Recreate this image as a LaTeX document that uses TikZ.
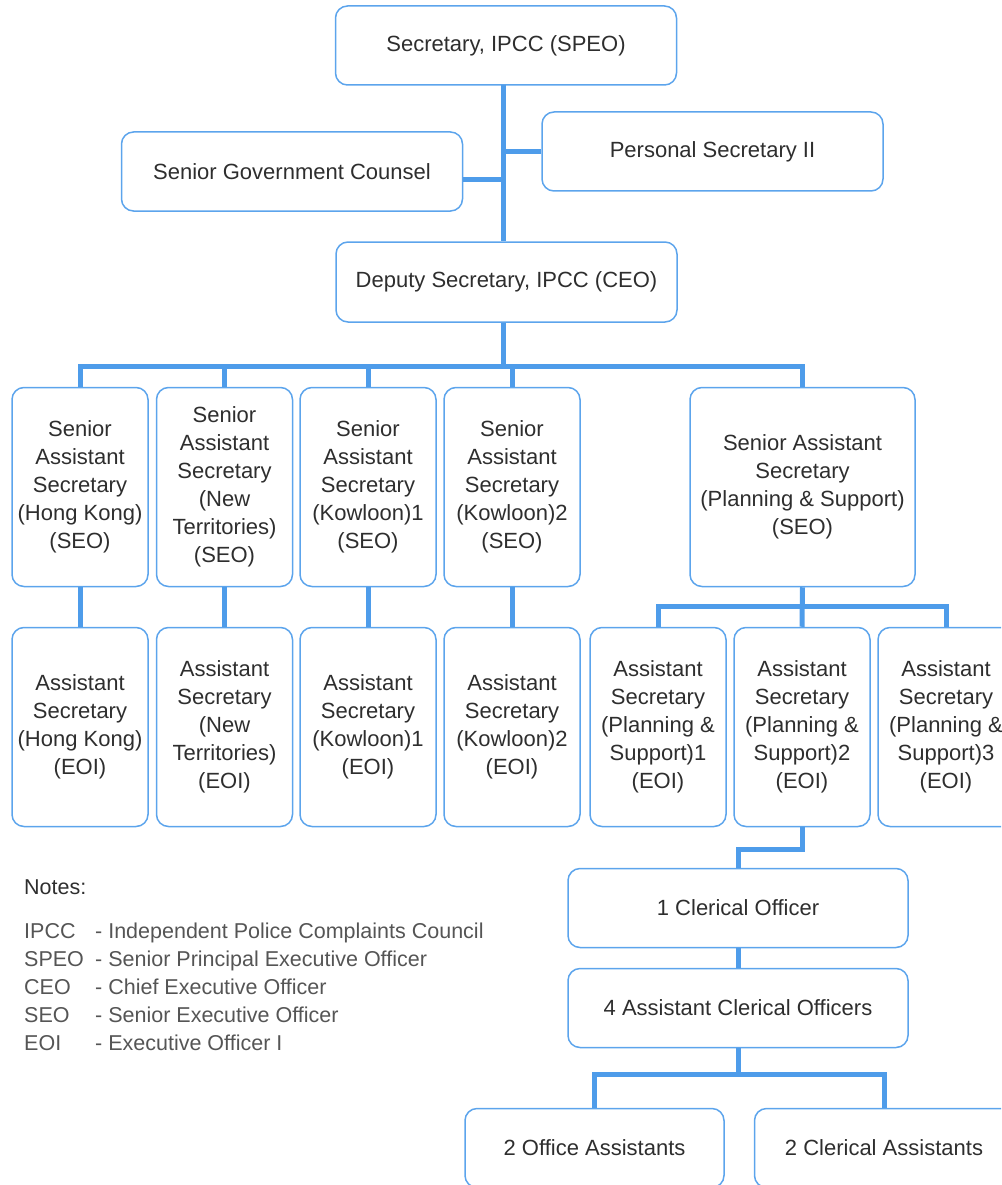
\documentclass[tikz,border=0pt]{standalone}
\usepackage{fontspec}
\setmainfont{Liberation Sans}
\definecolor{boxblue}{HTML}{5CA4EC}
\definecolor{linkblue}{HTML}{4E9CEA}
\definecolor{inkgrey}{HTML}{2E2E2E}
\definecolor{notegrey}{HTML}{555555}

\begin{document}
\begin{tikzpicture}[x=1pt, y=-1pt,
    post/.style={draw=boxblue, line width=1.5pt, rounded corners=12pt, text=inkgrey,
      align=center, font=\fontsize{22}{28}\selectfont, inner sep=0pt},
    wide/.style={post, minimum width=341pt, minimum height=79pt},
    tall/.style={post, minimum width=136pt, minimum height=199pt},
    link/.style={linkblue, line width=5pt},
    note/.style={anchor=base west, text=notegrey, font=\fontsize{21.5}{28}\selectfont, inner sep=0pt}]
    \clip (0,0) rectangle (1001,1185);

    % top of the office
    \node[wide] (sec) at (506,45.5) {Secretary, IPCC (SPEO)};
    \node[wide] (sgc) at (292,171.5) {Senior Government Counsel};
    \node[wide] (ps) at (712.5,151.5) {Personal Secretary II};
    \node[wide, minimum height=80pt] (dep) at (506.5,282) {Deputy Secretary, IPCC (CEO)};

    \coordinate (spine) at (503,85);
    \draw[link] (spine) -- (spine |- dep.north);
    \draw[link] (ps.west) -- (ps.west -| spine);
    \draw[link] ([yshift=-8pt]sgc.east) -- ([yshift=-8pt]sgc.east -| spine);

    % senior assistant secretaries
    \node[tall] (sashk) at (80,487) {Senior\\Assistant\\Secretary\\(Hong Kong)\\(SEO)};
    \node[tall] (sasnt) at (224.5,487) {Senior\\Assistant\\Secretary\\(New\\Territories)\\(SEO)};
    \node[tall] (sask1) at (368,487) {Senior\\Assistant\\Secretary\\(Kowloon)1\\(SEO)};
    \node[tall] (sask2) at (512,487) {Senior\\Assistant\\Secretary\\(Kowloon)2\\(SEO)};
    \node[tall, minimum width=225pt] (sasps) at (802.5,487) {Senior Assistant\\Secretary\\(Planning \& Support)\\(SEO)};

    \coordinate (hub) at (503,366);
    \draw[link] (spine |- dep.south) -- (hub);
    \draw[link] (sashk.north) -- (sashk.north |- hub) -- (sasps.north |- hub) -- (sasps.north);
    \foreach \n in {sasnt,sask1,sask2}
      \draw[link] (\n.north) -- (\n.north |- hub);

    % assistant secretaries
    \node[tall] (ashk) at (80,727) {Assistant\\Secretary\\(Hong Kong)\\(EOI)};
    \node[tall] (asnt) at (224.5,727) {Assistant\\Secretary\\(New\\Territories)\\(EOI)};
    \node[tall] (ask1) at (368,727) {Assistant\\Secretary\\(Kowloon)1\\(EOI)};
    \node[tall] (ask2) at (512,727) {Assistant\\Secretary\\(Kowloon)2\\(EOI)};
    \node[tall] (asps1) at (658,727) {Assistant\\Secretary\\(Planning \&\\Support)1\\(EOI)};
    \node[tall] (asps2) at (802,727) {Assistant\\Secretary\\(Planning \&\\Support)2\\(EOI)};
    \node[tall] (asps3) at (946,727) {Assistant\\Secretary\\(Planning \&\\Support)3\\(EOI)};

    \draw[link] (sashk.south) -- (ashk.north);
    \draw[link] (sasnt.south) -- (asnt.north);
    \draw[link] (sask1.south) -- (ask1.north);
    \draw[link] (sask2.south) -- (ask2.north);
    \draw[link] (sasps.south) -- (asps2.north);
    \draw[link] (asps1.north) -- ++(0,-20) -| (asps3.north);

    % clerical support
    \node[wide, minimum width=340pt] (co) at (738,908) {1 Clerical Officer};
    \node[wide, minimum width=340pt] (aco) at (738,1008) {4 Assistant Clerical Officers};
    \node[wide, minimum width=259pt] (oa) at (594.5,1148) {2 Office Assistants};
    \node[wide, minimum width=259pt] (ca) at (884,1148) {2 Clerical Assistants};

    \draw[link] (asps2.south) -- ++(0,22) -| (co.north);
    \draw[link] (co.south) -- (aco.north);
    \draw[link] (aco.south) -- ++(0,28);
    \draw[link] (oa.north) -- ++(0,-33) -| (ca.north);

    % notes
    \node[note, text=inkgrey] (notes) at (24,894) {Notes:};
    \foreach \ab/\full [count=\i] in {IPCC/Independent Police Complaints Council,
        SPEO/Senior Principal Executive Officer, CEO/Chief Executive Officer,
        SEO/Senior Executive Officer, EOI/Executive Officer I} {
      \node[note] (ab\i) at (24,910+28*\i) {\ab};
      \node[note] (def\i) at (95,910+28*\i) {- \full};
    }
  \end{tikzpicture}
\end{document}
